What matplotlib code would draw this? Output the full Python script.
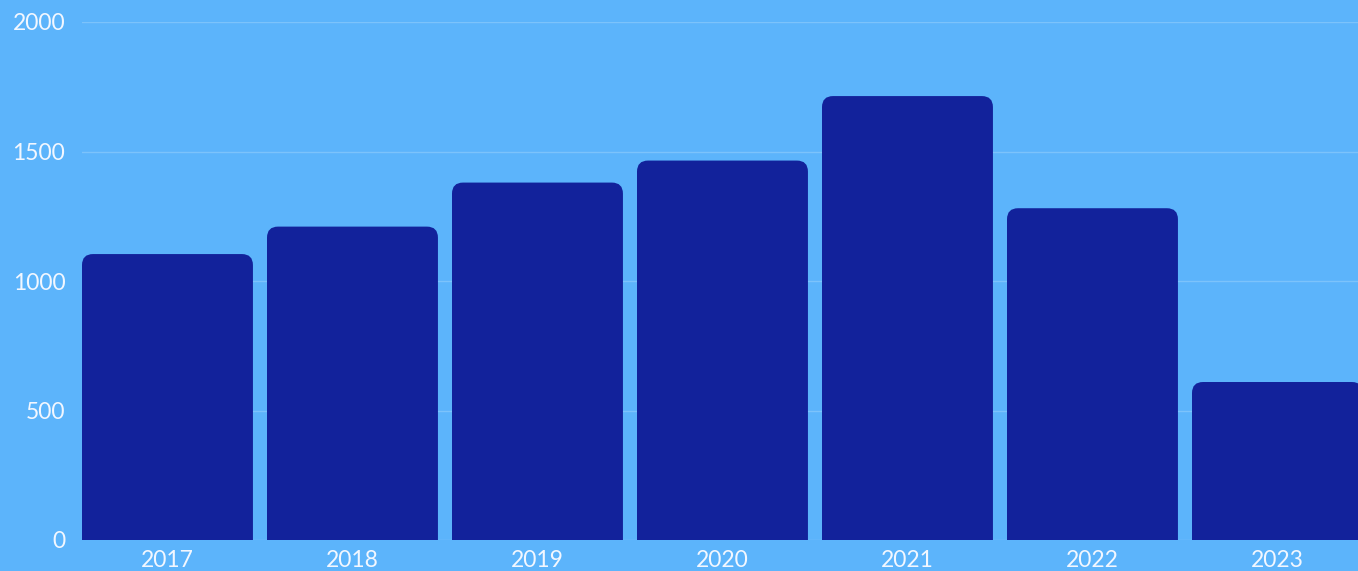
import matplotlib.pyplot as plt
from matplotlib.patches import FancyBboxPatch

years = ['2017', '2018', '2019', '2020', '2021', '2022', '2023']
values = [1104, 1210, 1380, 1465, 1714, 1281, 610]
y_ticks = [0, 500, 1000, 1500, 2000]

bg = '#5cb4fb'
bar_color = '#12229b'
grid_color = '#7cc3fb'
text_color = '#f2f7ff'

plt.rcParams['font.family'] = ['Lato', 'DejaVu Sans']

fig = plt.figure(figsize=(13.58, 5.71), dpi=100, facecolor=bg)
W, H = 1358, 571
# plot area in pixels: left 82, right 1358, top 22, bottom 540
ax = fig.add_axes([82 / W, (H - 540) / H, (1358 - 82) / W, (540 - 22) / H])
ax.set_facecolor(bg)

bar_w = 0.924
x0 = -bar_w / 2
ax.set_xlim(x0, x0 + 1276 / 185)
ax.set_ylim(0, 2000)

# rounded top corners, same radius in px both ways
px_x = 185.0
px_y = 518 / 2000.0
r = 11 / px_x
aspect = (11 / px_y) / r
for i, v in enumerate(values):
    box = FancyBboxPatch((i - bar_w / 2, -100), bar_w, v + 100,
                         boxstyle=f'round,pad=0,rounding_size={r}',
                         mutation_aspect=aspect,
                         facecolor=bar_color, edgecolor='none', zorder=3)
    ax.add_patch(box)

for t in y_ticks:
    ax.axhline(t, color=grid_color, lw=1, zorder=1)

ax.set_yticks(y_ticks)
ax.set_yticklabels([str(t) for t in y_ticks])
ax.set_xticks(range(len(years)))
ax.set_xticklabels(years)
ax.tick_params(axis='both', length=0, colors=text_color, labelsize=16.5)
ax.tick_params(axis='y', pad=12)
ax.tick_params(axis='x', pad=7)
for s in ax.spines.values():
    s.set_visible(False)

fig.savefig('out.png', dpi=100, facecolor=bg)
